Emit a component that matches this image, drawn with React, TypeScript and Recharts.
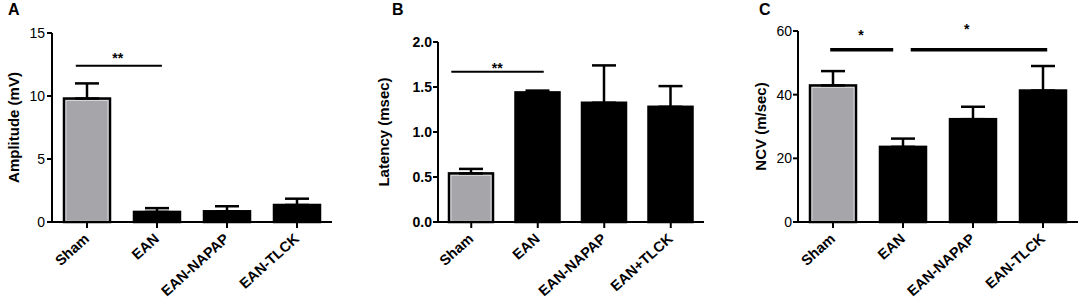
import React from "react";
import {
  Bar,
  BarChart,
  Cell,
  ErrorBar,
  ReferenceDot,
  ReferenceLine,
  XAxis,
  YAxis,
} from "recharts";

// group names
const groupsA = ["Sham", "EAN", "EAN-NAPAP", "EAN-TLCK"];
const groupsB = ["Sham", "EAN", "EAN-NAPAP", "EAN+TLCK"];
const groupsC = ["Sham", "EAN", "EAN-NAPAP", "EAN-TLCK"];

// means and SEM (upper error only)
const amplitudeMean = [9.8, 0.8, 0.85, 1.35];
const amplitudeSem = [1.2, 0.3, 0.4, 0.5];
const latencyMean = [0.54, 1.44, 1.325, 1.28];
const latencySem = [0.05, 0.02, 0.415, 0.23];
const ncvMean = [42.9, 23.6, 32.3, 41.3];
const ncvSem = [4.5, 2.6, 3.9, 7.7];

// y ticks
const ticksA = [0, 5, 10, 15];
const ticksB = [0, 0.5, 1.0, 1.5, 2.0];
const ticksC = [0, 20, 40, 60];

// significance brackets, x in group index units
const bracketsA = [{ from: -0.16, to: 1.07, y: 12.4, mark: "**", markX: 0.44, markY: 13.0 }];
const bracketsB = [{ from: -0.3, to: 1.09, y: 1.67, mark: "**", markX: 0.39, markY: 1.71 }];
const bracketsC = [
  { from: -0.04, to: 0.86, y: 54.1, mark: "*", markX: 0.4, markY: 58.7 },
  { from: 1.11, to: 3.06, y: 54.1, mark: "*", markX: 1.91, markY: 60.6 },
];

const barColors = ["#a5a5aa", "#000000", "#000000", "#000000"];
const FONT = '"Liberation Sans", Arial, sans-serif';

const XTick = (props: any) => {
  const { x, y, payload } = props;
  return (
    <g transform={`translate(${x},${y})`}>
      <text
        transform="translate(3,10) rotate(-42)"
        textAnchor="end"
        fontSize={14.5}
        fontWeight="bold"
        fontFamily={FONT}
        fill="#000"
      >
        {payload.value}
      </text>
    </g>
  );
};

const BarShape = (props: any) => {
  const { x, y, width, height, fill } = props;
  if (height <= 0) return null;
  const grey = fill !== "#000000";
  return (
    <g>
      <rect x={x} y={y} width={width} height={height} fill={fill} stroke="#000" strokeWidth={2.5} />
      {grey && (
        <rect
          x={x + 2}
          y={y + 2}
          width={width - 4}
          height={height - 3}
          fill="none"
          stroke="#d6d6da"
          strokeWidth={1}
        />
      )}
    </g>
  );
};

interface PanelProps {
  left: number;
  width: number;
  top: number;
  yAxisWidth: number;
  groups: string[];
  means: number[];
  sems: number[];
  ticks: number[];
  fmt?: (v: number) => string;
  title: string;
  titleX: number;
  barSize: number;
  brackets: typeof bracketsC;
  bracketWidth: number;
  tickBold: boolean;
  tickMargin: number;
}

function Panel(p: PanelProps) {
  const data = p.groups.map((g, i) => ({
    name: g,
    idx: i,
    mean: p.means[i],
    err: [0, p.sems[i]],
  }));
  const height = 299;
  return (
    <div style={{ position: "absolute", left: p.left, top: 0 }}>
      <BarChart
        width={p.width}
        height={height}
        data={data}
        margin={{ top: p.top, right: 6, bottom: 7, left: 0 }}
        barCategoryGap={0}
        style={{ overflow: "visible" }}
      >
        <XAxis
          dataKey="name"
          interval={0}
          height={70}
          tick={<XTick />}
          tickSize={6}
          axisLine={{ stroke: "#000", strokeWidth: 2 }}
          tickLine={{ stroke: "#000", strokeWidth: 2 }}
        />
        <XAxis
          xAxisId="num"
          dataKey="idx"
          type="number"
          domain={[-0.5, 3.5]}
          allowDataOverflow
          padding={{ left: 0, right: 0 }}
          hide
        />
        <YAxis
          width={p.yAxisWidth}
          domain={[p.ticks[0], p.ticks[p.ticks.length - 1]]}
          ticks={p.ticks}
          interval={0}
          tickFormatter={p.fmt}
          tickSize={5}
          tickMargin={p.tickMargin}
          axisLine={{ stroke: "#000", strokeWidth: 2 }}
          tickLine={{ stroke: "#000", strokeWidth: 2 }}
          tick={{
            fill: "#000",
            fontSize: 14,
            fontFamily: FONT,
            fontWeight: p.tickBold ? "bold" : "normal",
          }}
          label={{
            content: ({ viewBox }: any) => (
              <text
                transform={`translate(${viewBox.x + p.titleX},${viewBox.y + viewBox.height / 2}) rotate(-90)`}
                textAnchor="middle"
                fontSize={15}
                fontWeight="bold"
                fontFamily={FONT}
                fill="#000"
              >
                {p.title}
              </text>
            ),
          }}
        />
        <Bar dataKey="mean" barSize={p.barSize} shape={<BarShape />} isAnimationActive={false}>
          {data.map((d, i) => (
            <Cell key={d.name} fill={barColors[i]} />
          ))}
          <ErrorBar dataKey="err" direction="y" width={12} stroke="#000" strokeWidth={2.5} />
        </Bar>
        {p.brackets.map((b, i) => (
          <ReferenceLine
            key={"l" + i}
            xAxisId="num"
            segment={[
              { x: b.from, y: b.y },
              { x: b.to, y: b.y },
            ]}
            stroke="#000"
            strokeWidth={p.bracketWidth}
            ifOverflow="visible"
          />
        ))}
        {p.brackets.map((b, i) => (
          <ReferenceDot
            key={"m" + i}
            xAxisId="num"
            x={b.markX}
            y={b.markY}
            r={0}
            stroke="none"
            fill="none"
            ifOverflow="visible"
            label={{ value: b.mark, position: "center", fontSize: 14, fontWeight: "bold", fill: "#000", fontFamily: FONT }}
          />
        ))}
      </BarChart>
    </div>
  );
}

const letterStyle: React.CSSProperties = {
  position: "absolute",
  top: 1,
  fontFamily: FONT,
  fontWeight: "bold",
  fontSize: 16,
  lineHeight: "18px",
};

export default function App() {
  return (
    <div style={{ position: "relative", width: 1084, height: 299, background: "#fff", overflow: "hidden" }}>
      <style>{`body{margin:0}`}</style>
      <div style={{ ...letterStyle, left: 8 }}>A</div>
      <div style={{ ...letterStyle, left: 392 }}>B</div>
      <div style={{ ...letterStyle, left: 759 }}>C</div>
      <Panel
        left={0}
        width={338}
        top={33}
        yAxisWidth={52}
        groups={groupsA}
        means={amplitudeMean}
        sems={amplitudeSem}
        ticks={ticksA}
        title="Amplitude (mV)"
        titleX={18.5}
        barSize={46}
        brackets={bracketsA}
        bracketWidth={1.8}
        tickBold={false}
        tickMargin={2}
      />
      <Panel
        left={360}
        width={350}
        top={42}
        yAxisWidth={78}
        groups={groupsB}
        means={latencyMean}
        sems={latencySem}
        ticks={ticksB}
        fmt={(v) => v.toFixed(1)}
        title="Latency (msec)"
        titleX={29}
        barSize={44}
        brackets={bracketsB}
        bracketWidth={2}
        tickBold={true}
        tickMargin={1}
      />
      <Panel
        left={720}
        width={364}
        top={31}
        yAxisWidth={78}
        groups={groupsC}
        means={ncvMean}
        sems={ncvSem}
        ticks={ticksC}
        title="NCV (m/sec)"
        titleX={46}
        barSize={46}
        brackets={bracketsC}
        bracketWidth={3.5}
        tickBold={false}
        tickMargin={1}
      />
    </div>
  );
}
